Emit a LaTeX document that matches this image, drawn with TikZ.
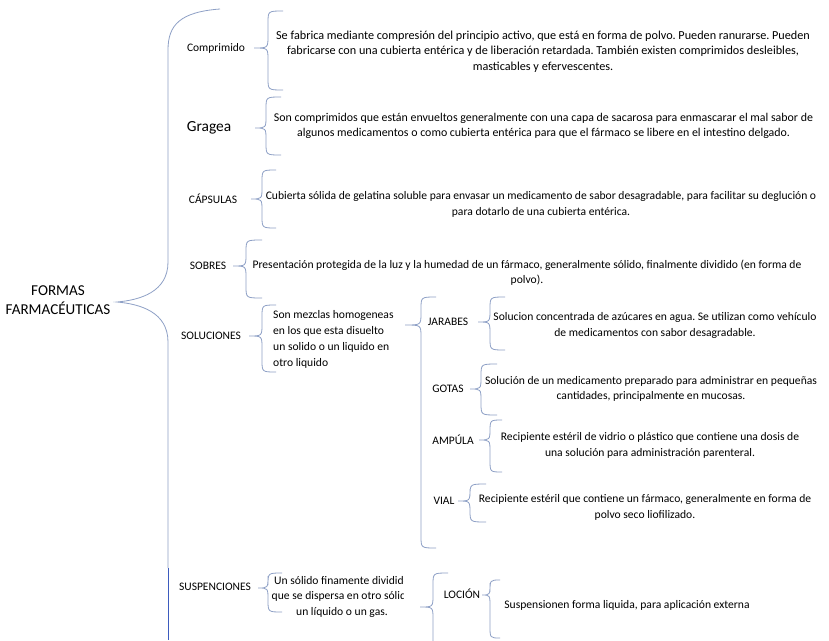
\documentclass[tikz,border=0pt]{standalone}
\usepackage{fontspec}
\setmainfont{Carlito}
\frenchspacing
\definecolor{brc}{HTML}{8EA0C6}
\definecolor{brd}{HTML}{3D5BBE}
\newcommand\cbrace[6]{%
  \draw[br] (#4,#5) .. controls (#3,#5) .. (#3,{#5+12}) -- (#3,{#2-12})
    .. controls (#3,#2) .. (#1,#2) .. controls (#3,#2) .. (#3,{#2+12})
    -- (#3,{#6-12}) .. controls (#3,#6) .. (#4,#6);}
\begin{document}
\begin{tikzpicture}[x=1pt,y=-1pt,
  br/.style={draw=brc,line width=0.8pt},
  desc/.style={font=\fontsize{11.6}{15.5}\selectfont,align=center,inner sep=0pt},
  lbl/.style={font=\fontsize{11.5}{13}\selectfont,inner sep=0pt}]
\useasboundingbox[fill=white] (0,0) rectangle (829,640);

% root
\node[font=\fontsize{15.1}{19}\selectfont,align=center,inner sep=0pt] (root) at (58,300) {FORMAS\\FARMACÉUTICAS};

% big brace
\draw[br] (220,9) .. controls (180,12) and (168,25) .. (168,50) -- (168,262)
  .. controls (168,292) and (140,300) .. (117,302)
  .. controls (140,304) and (168,312) .. (168,342) -- (168,568);
\draw[draw=brd,line width=1pt] (168,568) -- (168,640);

% labels
\node[lbl] (comp) at (216,48) {Comprimido};
\node[font=\fontsize{15.4}{17}\selectfont,inner sep=0pt] (grag) at (209,128) {Gragea};
\node[lbl] (caps) at (213,199) {CÁPSULAS};
\node[lbl] (sobr) at (208,266) {SOBRES};
\node[lbl] (solu) at (211,336) {SOLUCIONES};
\node[lbl] (jara) at (448,322) {JARABES};
\node[lbl] (gota) at (448,389) {GOTAS};
\node[lbl] (ampu) at (453,440) {AMPÚLA};
\node[lbl] (vial) at (444,501) {VIAL};
\node[lbl] (susp) at (215,587) {SUSPENCIONES};
\node[lbl] (loci) at (462,594) {LOCIÓN};

% descriptions
\node[desc,font=\fontsize{12.2}{15.5}\selectfont] (dcomp) at (543,51.5) {Se fabrica mediante compresión del principio activo, que está en forma de polvo. Pueden ranurarse. Pueden\\fabricarse con una cubierta entérica y de liberación retardada. También existen comprimidos desleibles,\\masticables y efervescentes.};
\node[desc,font=\fontsize{11.9}{15.5}\selectfont] (dgrag) at (543.5,126) {Son comprimidos que están envueltos generalmente con una capa de sacarosa para enmascarar el mal sabor de\\algunos medicamentos o como cubierta entérica para que el fármaco se libere en el intestino delgado.};
\node[desc] (dcaps) at (541,204.5) {Cubierta sólida de gelatina soluble para envasar un medicamento de sabor desagradable, para facilitar su deglución o\\para dotarlo de una cubierta entérica.};
\node[desc] (dsobr) at (527,272.5) {Presentación protegida de la luz y la humedad de un fármaco, generalmente sólido, finalmente dividido (en forma de\\polvo).};
\node[desc,align=left,anchor=west,font=\fontsize{11.6}{16}\selectfont] (dsolu) at (273,339) {Son mezclas homogeneas\\en los que esta disuelto\\un solido o un liquido en\\otro liquido};
\node[desc] (djara) at (655,325.5) {Solucion concentrada de azúcares en agua. Se utilizan como vehículo\\de medicamentos con sabor desagradable.};
\node[desc] (dgota) at (651,389) {Solución de un medicamento preparado para administrar en pequeñas\\cantidades, principalmente en mucosas.};
\node[desc] (dampu) at (650,445.5) {Recipiente estéril de vidrio o plástico que contiene una dosis de\\una solución para administración parenteral.};
\node[desc] (dvial) at (645,507.5) {Recipiente estéril que contiene un fármaco, generalmente en forma de\\polvo seco liofilizado.};
\begin{scope}
\clip (262,566) rectangle (403,622);
\node[desc] (dsusp) at (342,596.5) {Un sólido finamente dividido\\que se dispersa en otro sólido\\un líquido o un gas.};
\end{scope}
\node[desc] (dloci) at (627,605) {Suspensionen forma liquida, para aplicación externa};

% braces
\cbrace{254}{48}{268}{283}{11}{90}
\cbrace{255}{128}{266}{281}{97}{155}
\cbrace{251}{199}{262}{276}{170}{228}
\cbrace{233}{266}{246}{262}{240}{298}
\cbrace{249}{336}{262}{276}{305}{372}
\cbrace{405}{325}{421}{436}{297}{548}
\cbrace{478}{322}{490}{505}{297}{350}
\cbrace{470}{389}{481}{497}{364}{415}
\cbrace{479}{440}{490}{502}{420}{472}
\cbrace{458}{501}{470}{486}{484}{522}
\cbrace{258}{588}{268}{282}{573}{612}
\cbrace{420}{607}{433}{448}{573}{680}
\cbrace{482}{595}{490}{500}{580}{638}
\end{tikzpicture}
\end{document}
